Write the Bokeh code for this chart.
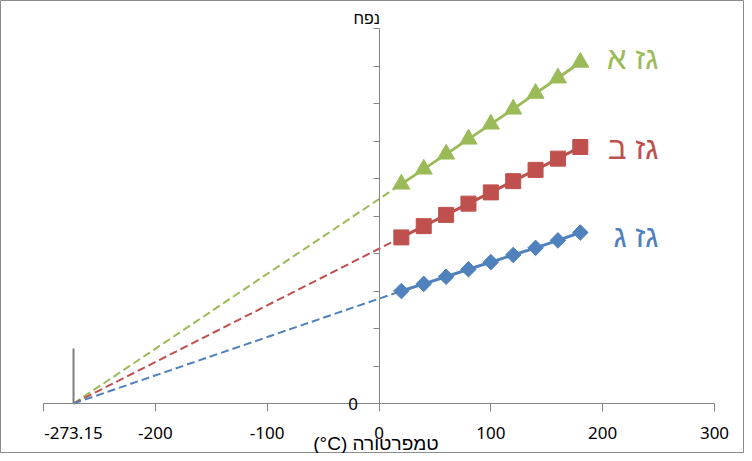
from bokeh.plotting import figure
from bokeh.models import LinearAxis, FixedTicker, Label, Range1d
from bokeh.embed import file_html
from bokeh.resources import INLINE
import math

# ---- data ----
temps = [20, 40, 60, 80, 100, 120, 140, 160, 180]
gas_a = [5.85, 6.25, 6.65, 7.05, 7.45, 7.85, 8.27, 8.68, 9.10]
gas_b = [4.43, 4.73, 5.03, 5.33, 5.63, 5.93, 6.23, 6.53, 6.84]
gas_c = [3.00, 3.19, 3.38, 3.58, 3.77, 3.96, 4.15, 4.35, 4.56]
abs_zero = -273.15
marker_height = 1.47
x_tick_marks = [-300, -200, -100, 0, 100, 200, 300]
x_label_values = [-273.15, -200, -100, 0, 100, 200, 300]
x_label_texts = ["-273.15", "-200", "-100", "0", "100", "200", "300"]
y_ticks = list(range(0, 11))
names = ["גז א", "גז ב", "גז ג"]
x_title = "(°C) טמפרטורה"
y_title = "נפח"

colors = ["#9BBB59", "#C0504D", "#4F81BD"]
axis_color = "#868686"
num_font = "Noto Sans"
heb_font = "Liberation Sans"

W, H = 744, 453
# plot frame fills the whole figure; axes are placed at fixed locations inside it
px_per_x = 671 / 600.0
px_per_y = 375 / 10.0
x_start = -300 - 43 / px_per_x
x_end = x_start + W / px_per_x
y_end = 10 + 28 / px_per_y
y_start = y_end - H / px_per_y

p = figure(width=W, height=H, x_range=Range1d(x_start, x_end), y_range=Range1d(y_start, y_end),
           output_backend="svg", toolbar_location=None,
           x_axis_location=None, y_axis_location=None, min_border=0)
p.grid.visible = False
p.outline_line_color = "#8C8C8C"
p.outline_line_width = 1
p.background_fill_color = "white"
p.border_fill_color = "white"

xaxis = LinearAxis(fixed_location=0, bounds=(-300, 300),
                   ticker=FixedTicker(ticks=x_label_values, minor_ticks=x_tick_marks),
                   major_label_overrides=dict(zip(x_label_values, x_label_texts)),
                   axis_line_color=axis_color, major_tick_line_color=None,
                   minor_tick_line_color=axis_color, minor_tick_in=0, minor_tick_out=8,
                   major_tick_in=0, major_tick_out=8,
                   major_label_standoff=15,
                   major_label_text_font=num_font, major_label_text_font_size="17px",
                   major_label_text_color="black")
p.add_layout(xaxis, "below")

yaxis = LinearAxis(fixed_location=0, bounds=(0, 10), ticker=FixedTicker(ticks=y_ticks),
                   major_label_overrides={t: "" for t in y_ticks if t != 0},
                   axis_line_color=axis_color, major_tick_line_color=axis_color,
                   minor_tick_line_color=None, major_tick_in=0, major_tick_out=6,
                   major_label_standoff=15,
                   major_label_text_font=num_font, major_label_text_font_size="17px",
                   major_label_text_color="black")
p.add_layout(yaxis, "left")

# absolute zero marker line
p.segment(x0=[abs_zero], y0=[0], x1=[abs_zero], y1=[marker_height],
          line_color="#7F7F7F", line_width=2)

series = [gas_a, gas_b, gas_c]
# dashed extrapolations to absolute zero
for vals, c in zip(series, colors):
    p.line([abs_zero, temps[0]], [0, vals[0]], line_color=c, line_width=2, line_dash="8 4")

# solid series with markers and end labels
label_dy = [4, -1, -4]
for i, (vals, c) in enumerate(zip(series, colors)):
    p.line(temps, vals, line_color=c, line_width=3)
    if i == 0:
        p.scatter(temps, vals, marker="triangle", size=17, fill_color=c, line_color=c)
    elif i == 1:
        p.scatter(temps, vals, marker="square", size=15, fill_color=c, line_color=c)
    else:
        p.scatter(temps, vals, marker="square", size=11, angle=math.pi / 4,
                  fill_color=c, line_color=c)
    p.add_layout(Label(x=temps[-1], y=vals[-1], x_offset=78, y_offset=label_dy[i],
                       text=names[i], text_color=c, text_font=heb_font,
                       text_font_size="31px", text_align="right", text_baseline="middle"))

# axis titles
p.add_layout(Label(x=0, y=0, y_offset=-40, x_offset=-3, text=x_title,
                   text_font=heb_font, text_font_size="19px",
                   text_align="center", text_baseline="middle", text_color="black"))
p.add_layout(Label(x=0, y=10, y_offset=10, x_offset=1, text=y_title,
                   text_font=heb_font, text_font_size="16px",
                   text_align="right", text_baseline="middle", text_color="black"))

open("out.html", "w").write(file_html(p, INLINE))
